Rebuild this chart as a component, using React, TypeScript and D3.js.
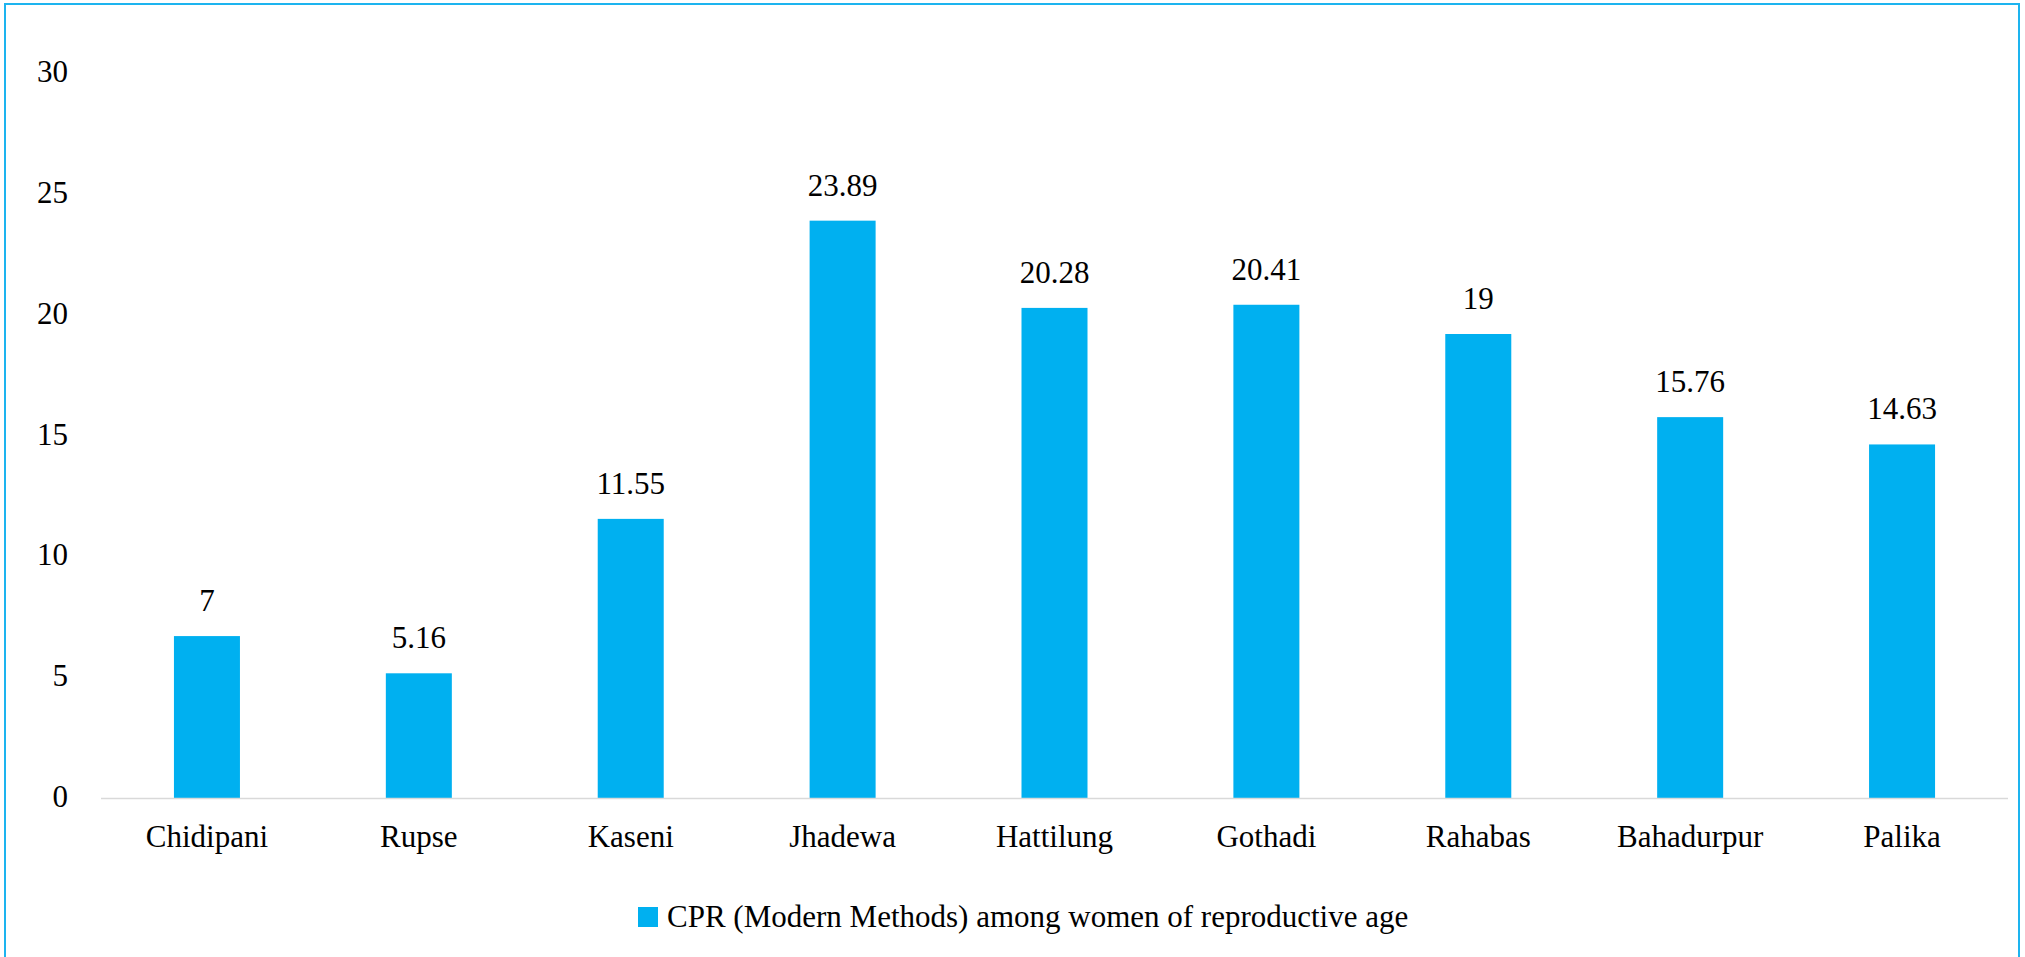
import React from "react";
import * as d3 from "d3";

const WIDTH = 2025;
const HEIGHT = 957;
const BAR_COLOR = "#00B0F0";
const FONT = "Liberation Serif, Tinos, Times New Roman, DejaVu Serif, serif";

// categories and values (bar heights; labels as printed)
const categories = ["Chidipani", "Rupse", "Kaseni", "Jhadewa", "Hattilung", "Gothadi", "Rahabas", "Bahadurpur", "Palika"];
const values = [6.7, 5.16, 11.55, 23.89, 20.28, 20.41, 19.2, 15.76, 14.63];
const valueLabels = ["7", "5.16", "11.55", "23.89", "20.28", "20.41", "19", "15.76", "14.63"];
const yTicks = [0, 5, 10, 15, 20, 25, 30];
const seriesName = "CPR (Modern Methods) among women of reproductive age";

const textStyle: React.CSSProperties = { fontFamily: FONT, fontSize: 31 };

export default function App() {
  const plot = { left: 101, right: 2008, top: 73, bottom: 798 };

  const x = d3.scaleBand<string>()
    .domain(categories)
    .range([plot.left, plot.right])
    .paddingInner(0.6885)
    .paddingOuter(0.6885 / 2);

  const y = d3.scaleLinear().domain([0, 30]).range([plot.bottom, plot.top]);

  return (
    <div style={{ position: "absolute", left: 0, top: 0, width: WIDTH, height: HEIGHT, background: "#fff" }}>
      <svg width={WIDTH} height={HEIGHT} style={{ display: "block" }}>
        <rect x={0} y={0} width={WIDTH} height={HEIGHT} fill="#fff" />
        {/* outer frame */}
        <rect x={5} y={4} width={2014} height={980} fill="none" stroke="#1db4ef" strokeWidth={2} />

        {/* y tick labels */}
        {yTicks.map((t) => (
          <text key={t} x={68} y={y(t) + 9} textAnchor="end" style={textStyle} fill="#000">
            {t}
          </text>
        ))}

        {/* bars */}
        {values.map((v, i) => (
          <rect
            key={categories[i]}
            x={x(categories[i])!}
            y={y(v)}
            width={x.bandwidth()}
            height={y(0) - y(v)}
            fill={BAR_COLOR}
          />
        ))}

        {/* baseline */}
        <line x1={plot.left} x2={plot.right} y1={y(0) + 0.5} y2={y(0) + 0.5} stroke="#d9d9d9" strokeWidth={1.5} />

        {/* value labels */}
        {values.map((v, i) => (
          <text
            key={"v" + i}
            x={x(categories[i])! + x.bandwidth() / 2}
            y={y(v) - 25}
            textAnchor="middle"
            style={textStyle}
            fill="#000"
          >
            {valueLabels[i]}
          </text>
        ))}

        {/* category labels */}
        {categories.map((c) => (
          <text key={c} x={x(c)! + x.bandwidth() / 2} y={847} textAnchor="middle" style={textStyle} fill="#000">
            {c}
          </text>
        ))}

        {/* legend */}
        <rect x={638} y={907} width={20} height={20} fill={BAR_COLOR} />
        <text x={667} y={927} style={textStyle} fill="#000">
          {seriesName}
        </text>
      </svg>
    </div>
  );
}
